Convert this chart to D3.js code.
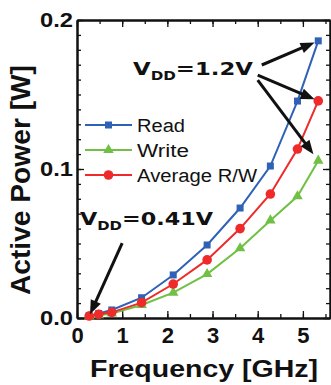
<!DOCTYPE html>
<html>
<head>
<meta charset="utf-8">
<script src="https://cdn.jsdelivr.net/npm/d3@7"></script>
<style>
  body { margin: 0; background: #fff; }
</style>
</head>
<body>
<div id="chart"></div>
<script>
// Datos
const freq = [0.27, 0.48, 0.77, 1.43, 2.13, 2.88, 3.61, 4.28, 4.88, 5.34];
const readPower = [0.0016, 0.0030, 0.0054, 0.0136, 0.0289, 0.0490, 0.0738, 0.1020, 0.1456, 0.1860];
const writePower = [0.0010, 0.0018, 0.0030, 0.0087, 0.0170, 0.0295, 0.0468, 0.0655, 0.0817, 0.1056];
const avgPower = [0.0013, 0.0025, 0.0038, 0.0103, 0.0228, 0.0390, 0.0600, 0.0832, 0.1134, 0.1457];
const seriesNames = ["Read", "Write", "Average R/W"];
const xTicks = [0, 1, 2, 3, 4, 5];
const yTicks = [0.0, 0.1, 0.2];

const colors = ["#2f62b6", "#70c044", "#ee2a2a"];
const W = 331, H = 385;
const font = "'Liberation Sans', Arial, sans-serif";
const vFont = "'DejaVu Sans', Verdana, sans-serif";

const svg = d3.select("#chart").append("svg")
    .attr("width", W)
    .attr("height", H);

const x = d3.scaleLinear().domain([0, 5.6]).range([77, 330]);
const y = d3.scaleLinear().domain([0, 0.2]).range([318, 20]);

const xMinor = d3.range(0, 5.6, 0.5);
const yMinor = d3.range(0, 0.2001, 0.01);

// Ticks menores (hacia dentro)
svg.append("g").attr("transform", `translate(0,${y(0)})`)
    .call(d3.axisBottom(x).tickValues(xMinor).tickSize(-4).tickSizeOuter(0).tickFormat(""));
svg.append("g").attr("transform", `translate(0,${y(0.2)})`)
    .call(d3.axisTop(x).tickValues(xMinor).tickSize(-4).tickSizeOuter(0).tickFormat(""));
svg.append("g").attr("transform", `translate(${x(0)},0)`)
    .call(d3.axisLeft(y).tickValues(yMinor).tickSize(-4).tickSizeOuter(0).tickFormat(""));
svg.append("g").attr("transform", `translate(${x(5.6)},0)`)
    .call(d3.axisRight(y).tickValues(yMinor).tickSize(-4).tickSizeOuter(0).tickFormat(""));

// Ticks mayores con etiquetas
const xAxis = svg.append("g").attr("transform", `translate(0,${y(0)})`)
    .call(d3.axisBottom(x).tickValues(xTicks).tickSize(-7).tickSizeOuter(0).tickPadding(9).tickFormat(d3.format("d")));
const yAxis = svg.append("g").attr("transform", `translate(${x(0)},0)`)
    .call(d3.axisLeft(y).tickValues(yTicks).tickSize(-7).tickSizeOuter(0).tickPadding(4).tickFormat(d3.format(".1f")));
svg.append("g").attr("transform", `translate(0,${y(0.2)})`)
    .call(d3.axisTop(x).tickValues(xTicks).tickSize(-7).tickSizeOuter(0).tickFormat(""));
svg.append("g").attr("transform", `translate(${x(5.6)},0)`)
    .call(d3.axisRight(y).tickValues(yTicks).tickSize(-7).tickSizeOuter(0).tickFormat(""));

svg.selectAll(".domain").attr("stroke", "#111").attr("stroke-width", 2);
svg.selectAll(".tick line").attr("stroke", "#111").attr("stroke-width", 1.3);

xAxis.selectAll("text")
    .style("font-family", font).style("font-size", "22px").style("font-weight", "bold").attr("fill", "#111");
yAxis.selectAll("text")
    .style("font-family", font).style("font-size", "21px").style("font-weight", "bold").attr("fill", "#111")
    .attr("textLength", 33).attr("lengthAdjust", "spacingAndGlyphs");

// Títulos de ejes
svg.append("text")
    .attr("x", 204).attr("y", 377)
    .attr("text-anchor", "middle")
    .attr("textLength", 228).attr("lengthAdjust", "spacingAndGlyphs")
    .style("font-family", font).style("font-size", "23px").style("font-weight", "bold")
    .attr("fill", "#111")
    .text("Frequency [GHz]");

svg.append("text")
    .attr("transform", "translate(30,180) rotate(-90)")
    .attr("text-anchor", "middle")
    .attr("textLength", 230).attr("lengthAdjust", "spacingAndGlyphs")
    .style("font-family", font).style("font-size", "27px").style("font-weight", "bold")
    .attr("fill", "#111")
    .text("Active Power [W]");

// Series
const series = [readPower, writePower, avgPower];
const line = d3.line().x((d, i) => x(freq[i])).y(d => y(d));

function drawMarker(g, type, cx, cy, color) {
    if (type === 0) {
        g.append("rect").attr("x", cx - 3.5).attr("y", cy - 3.5).attr("width", 7).attr("height", 7).attr("fill", color);
    } else if (type === 1) {
        const s = d3.symbol().type(d3.symbolTriangle).size(48);
        g.append("path").attr("d", s()).attr("transform", `translate(${cx},${cy})`).attr("fill", color);
    } else {
        g.append("circle").attr("cx", cx).attr("cy", cy).attr("r", 4.8).attr("fill", color);
    }
}

series.forEach((vals, k) => {
    const g = svg.append("g");
    g.append("path")
        .datum(vals)
        .attr("d", line)
        .attr("fill", "none")
        .attr("stroke", colors[k])
        .attr("stroke-width", 2);
    vals.forEach((v, i) => drawMarker(g, k, x(freq[i]), y(v), colors[k]));
});

// Leyenda
const legY = [125, 150, 175];
seriesNames.forEach((name, k) => {
    const g = svg.append("g");
    g.append("line").attr("x1", 85).attr("x2", 132).attr("y1", legY[k]).attr("y2", legY[k])
        .attr("stroke", colors[k]).attr("stroke-width", 2);
    drawMarker(g, k, 108.5, legY[k], colors[k]);
    g.append("text")
        .attr("x", 137).attr("y", legY[k] + 7)
        .attr("textLength", [48, 52, 120][k]).attr("lengthAdjust", "spacingAndGlyphs")
        .style("font-family", font).style("font-size", "18px")
        .attr("fill", "#111")
        .text(name);
});

// Anotaciones V_DD
function vddLabel(px, py, value, width) {
    const t = svg.append("text")
        .attr("x", 0).attr("y", 0)
        .style("font-family", vFont).style("font-weight", "bold").style("font-size", "18px")
        .attr("fill", "#111");
    t.append("tspan").text("V");
    t.append("tspan").attr("dy", 5).style("font-size", "12px").text("DD");
    t.append("tspan").attr("dy", -5).text("=" + value);
    const w = t.node().getComputedTextLength();
    t.attr("transform", `translate(${px},${py}) scale(${width / w},1)`);
}
vddLabel(133, 75, "1.2V", 120);
vddLabel(80, 225, "0.41V", 133);

function arrow(f0, p0, f1, p1, back) {
    const x0 = x(f0), y0 = y(p0);
    let x1 = x(f1), y1 = y(p1);
    const dx = x1 - x0, dy = y1 - y0, len = Math.hypot(dx, dy);
    const ux = dx / len, uy = dy / len;
    x1 -= ux * back; y1 -= uy * back;
    const hl = 14, hw = 5.5;
    const bx = x1 - ux * hl, by = y1 - uy * hl;
    svg.append("line")
        .attr("x1", x0).attr("y1", y0).attr("x2", bx + ux * 2).attr("y2", by + uy * 2)
        .attr("stroke", "#111").attr("stroke-width", 3);
    svg.append("path")
        .attr("d", `M${x1},${y1}L${bx - uy * hw},${by + ux * hw}L${bx + uy * hw},${by - ux * hw}Z`)
        .attr("fill", "#111");
}
const last = freq.length - 1;
arrow(4.09, 0.1698, freq[last], readPower[last], 4);
arrow(4.00, 0.1630, freq[last], avgPower[last], 4);
arrow(4.00, 0.1597, freq[last], writePower[last], 8);
arrow(1.00, 0.0503, freq[0], avgPower[0], 2);
</script>
</body>
</html>
